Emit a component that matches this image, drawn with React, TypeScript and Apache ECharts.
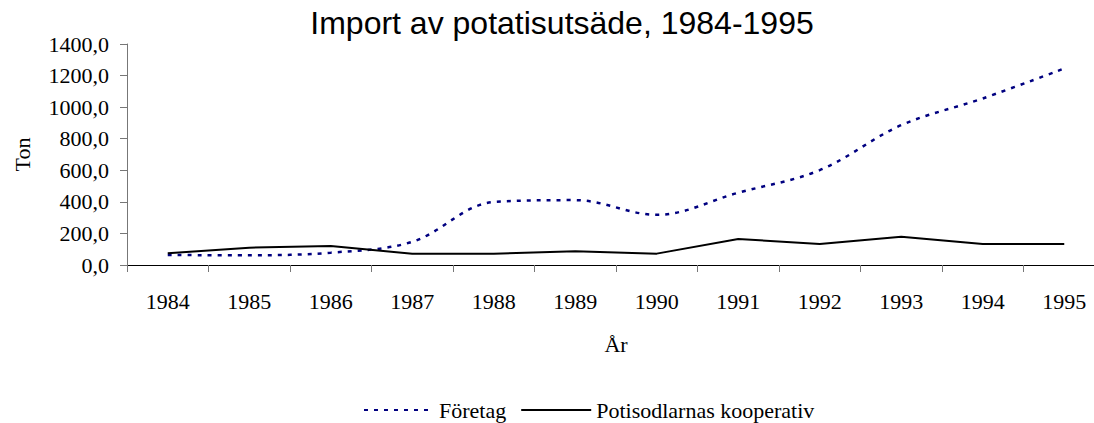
import React, { useEffect, useRef } from "react";
import * as echarts from "echarts";

const years = ["1984","1985","1986","1987","1988","1989","1990","1991","1992","1993","1994","1995"];
const foretag = [63, 62, 78, 147, 399, 411, 318, 458, 601, 886, 1055, 1245];
const kooperativ = [74, 110, 120, 72, 72, 87, 72, 165, 133, 179, 133, 133];

export default function App() {
  const ref = useRef<HTMLDivElement>(null);
  useEffect(() => {
    const chart = echarts.init(ref.current!, null, { renderer: "svg" });
    const serif = "'Liberation Serif', 'Times New Roman', serif";
    chart.setOption({
      animation: false,
      title: {
        text: "Import av potatisutsäde, 1984-1995",
        left: 562,
        top: 7,
        padding: 0,
        textAlign: "center",
        textStyle: { fontFamily: "'Liberation Sans', Arial, sans-serif", fontSize: 32, fontWeight: "normal", color: "#000" },
      },
      legend: {
        left: 363,
        top: 399,
        padding: 0,
        itemWidth: 70,
        itemHeight: 12,
        itemGap: 14,
        itemStyle: { opacity: 0 },
        textStyle: { fontFamily: serif, fontSize: 22, color: "#000" },
        data: ["Företag", "Potisodlarnas kooperativ"],
      },
      grid: { left: 127, width: 978, top: 44, height: 221, outerBoundsMode: "none", containLabel: false },
      xAxis: {
        type: "category",
        data: years,
        boundaryGap: true,
        name: "År",
        nameLocation: "middle",
        nameGap: 68,
        nameTextStyle: { fontFamily: serif, fontSize: 22, color: "#000" },
        axisLine: { lineStyle: { color: "#000", width: 1 } },
        axisTick: { show: true, length: 7, lineStyle: { color: "#777" } },
        axisLabel: { fontFamily: serif, fontSize: 22, color: "#000", margin: 25 },
      },
      yAxis: {
        type: "value",
        min: 0,
        max: 1400,
        interval: 200,
        name: "Ton",
        nameLocation: "middle",
        nameGap: 94,
        nameRotate: 90,
        nameTextStyle: { fontFamily: serif, fontSize: 22, color: "#000" },
        axisLine: { show: true, lineStyle: { color: "#777", width: 1 } },
        axisTick: { show: true, length: 7, lineStyle: { color: "#777" } },
        splitLine: { show: false },
        axisLabel: {
          fontFamily: serif,
          fontSize: 22,
          color: "#000",
          margin: 18,
          formatter: (v: number) => v.toFixed(1).replace(".", ","),
        },
      },
      series: [
        {
          name: "Företag",
          type: "line",
          data: foretag,
          smooth: 0.35,
          symbol: "none",
          itemStyle: { color: "#000080" },
          lineStyle: { color: "#000080", width: 2.5, type: [4, 6] },
        },
        {
          name: "Potisodlarnas kooperativ",
          type: "line",
          data: kooperativ,
          symbol: "none",
          itemStyle: { color: "#000" },
          lineStyle: { color: "#000", width: 2, type: "solid" },
        },
      ],
    });
    return () => chart.dispose();
  }, []);
  return (
    <div
      ref={ref}
      style={{ position: "absolute", left: 0, top: 0, width: 1094, height: 423 }}
    />
  );
}
